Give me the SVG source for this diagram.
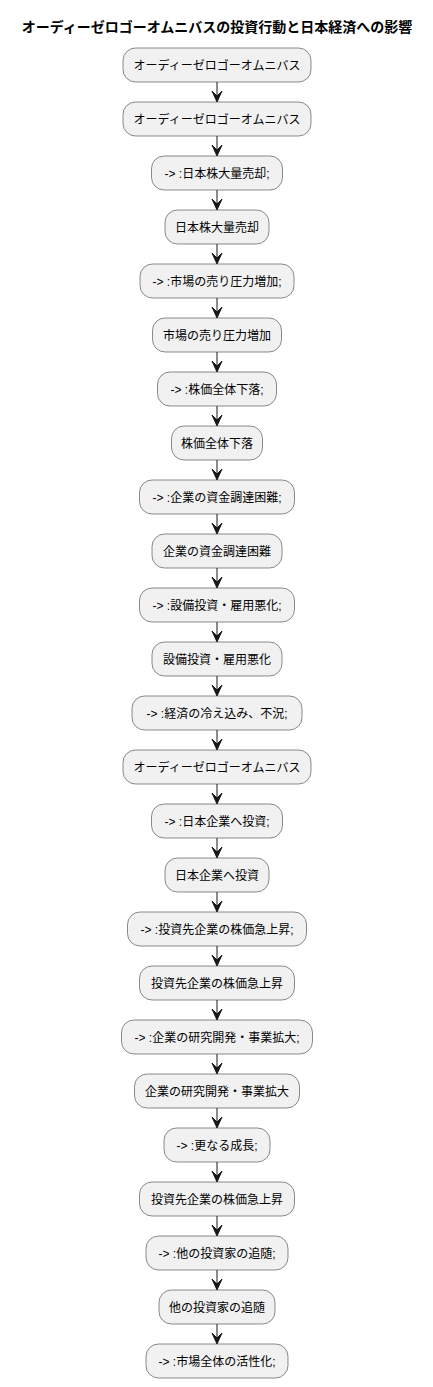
<svg xmlns="http://www.w3.org/2000/svg" width="433" height="1387" viewBox="0 0 433 1387">
<style>
.bg{fill:#FFFFFF}
.n rect{fill:#F1F1F1;stroke:#181818;stroke-width:0.5}
.n text{font-family:"Liberation Sans","Noto Sans CJK JP",sans-serif;font-size:12px;fill:#000000;text-anchor:middle}
.title{font-family:"Liberation Sans","Noto Sans CJK JP",sans-serif;font-size:14px;font-weight:bold;fill:#000000;text-anchor:middle}
#connectors line{stroke:#181818;stroke-width:1}
#connectors use{fill:#181818;stroke:#181818;stroke-width:1}
</style>
<defs>
<polygon id="ah" points="-5,-11 0,0 5,-11 0,-6"/>
</defs>
<rect class="bg" x="0" y="0" width="433" height="1387"/>
<text class="title" x="217" y="32">オーディーゼロゴーオムニバスの投資行動と日本経済への影響</text>
<g id="connectors">
<line x1="217" y1="82" x2="217" y2="97"/><use href="#ah" x="217" y="102"/>
<line x1="217" y1="136" x2="217" y2="151"/><use href="#ah" x="217" y="156"/>
<line x1="217" y1="190" x2="217" y2="205"/><use href="#ah" x="217" y="210"/>
<line x1="217" y1="244" x2="217" y2="259"/><use href="#ah" x="217" y="264"/>
<line x1="217" y1="298" x2="217" y2="313"/><use href="#ah" x="217" y="318"/>
<line x1="217" y1="352" x2="217" y2="367"/><use href="#ah" x="217" y="372"/>
<line x1="217" y1="406" x2="217" y2="421"/><use href="#ah" x="217" y="426"/>
<line x1="217" y1="460" x2="217" y2="475"/><use href="#ah" x="217" y="480"/>
<line x1="217" y1="514" x2="217" y2="529"/><use href="#ah" x="217" y="534"/>
<line x1="217" y1="568" x2="217" y2="583"/><use href="#ah" x="217" y="588"/>
<line x1="217" y1="622" x2="217" y2="637"/><use href="#ah" x="217" y="642"/>
<line x1="217" y1="676" x2="217" y2="691"/><use href="#ah" x="217" y="696"/>
<line x1="217" y1="730" x2="217" y2="745"/><use href="#ah" x="217" y="750"/>
<line x1="217" y1="784" x2="217" y2="799"/><use href="#ah" x="217" y="804"/>
<line x1="217" y1="838" x2="217" y2="853"/><use href="#ah" x="217" y="858"/>
<line x1="217" y1="892" x2="217" y2="907"/><use href="#ah" x="217" y="912"/>
<line x1="217" y1="946" x2="217" y2="961"/><use href="#ah" x="217" y="966"/>
<line x1="217" y1="1000" x2="217" y2="1015"/><use href="#ah" x="217" y="1020"/>
<line x1="217" y1="1054" x2="217" y2="1069"/><use href="#ah" x="217" y="1074"/>
<line x1="217" y1="1108" x2="217" y2="1123"/><use href="#ah" x="217" y="1128"/>
<line x1="217" y1="1162" x2="217" y2="1177"/><use href="#ah" x="217" y="1182"/>
<line x1="217" y1="1216" x2="217" y2="1231"/><use href="#ah" x="217" y="1236"/>
<line x1="217" y1="1270" x2="217" y2="1285"/><use href="#ah" x="217" y="1290"/>
<line x1="217" y1="1324" x2="217" y2="1339"/><use href="#ah" x="217" y="1344"/>
</g>
<g id="n1" class="n"><rect x="123" y="48" width="188" height="34" rx="12.5"/><text x="217" y="69.5">オーディーゼロゴーオムニバス</text></g>
<g id="n2" class="n"><rect x="123" y="102" width="188" height="34" rx="12.5"/><text x="217" y="123.5">オーディーゼロゴーオムニバス</text></g>
<g id="n3" class="n"><rect x="151.5" y="156" width="131" height="34" rx="12.5"/><text x="217" y="177.5">-&gt;  :日本株大量売却;</text></g>
<g id="n4" class="n"><rect x="165" y="210" width="104" height="34" rx="12.5"/><text x="217" y="231.5">日本株大量売却</text></g>
<g id="n5" class="n"><rect x="140" y="264" width="154" height="34" rx="12.5"/><text x="217" y="285.5">-&gt; :市場の売り圧力増加;</text></g>
<g id="n6" class="n"><rect x="152.5" y="318" width="129" height="34" rx="12.5"/><text x="217" y="339.5">市場の売り圧力増加</text></g>
<g id="n7" class="n"><rect x="157.5" y="372" width="119" height="34" rx="12.5"/><text x="217" y="393.5">-&gt; :株価全体下落;</text></g>
<g id="n8" class="n"><rect x="171.5" y="426" width="91" height="34" rx="12.5"/><text x="217" y="447.5">株価全体下落</text></g>
<g id="n9" class="n"><rect x="139.5" y="480" width="155" height="34" rx="12.5"/><text x="217" y="501.5">-&gt; :企業の資金調達困難;</text></g>
<g id="n10" class="n"><rect x="152" y="534" width="130" height="34" rx="12.5"/><text x="217" y="555.5">企業の資金調達困難</text></g>
<g id="n11" class="n"><rect x="139.5" y="588" width="155" height="34" rx="12.5"/><text x="217" y="609.5">-&gt; :設備投資・雇用悪化;</text></g>
<g id="n12" class="n"><rect x="152" y="642" width="130" height="34" rx="12.5"/><text x="217" y="663.5">設備投資・雇用悪化</text></g>
<g id="n13" class="n"><rect x="132" y="696" width="170" height="34" rx="12.5"/><text x="217" y="717.5">-&gt; :経済の冷え込み、不況;</text></g>
<g id="n14" class="n"><rect x="123" y="750" width="188" height="34" rx="12.5"/><text x="217" y="771.5">オーディーゼロゴーオムニバス</text></g>
<g id="n15" class="n"><rect x="151.5" y="804" width="131" height="34" rx="12.5"/><text x="217" y="825.5">-&gt; :日本企業へ投資;</text></g>
<g id="n16" class="n"><rect x="165" y="858" width="104" height="34" rx="12.5"/><text x="217" y="879.5">日本企業へ投資</text></g>
<g id="n17" class="n"><rect x="127.5" y="912" width="179" height="34" rx="12.5"/><text x="217" y="933.5">-&gt; :投資先企業の株価急上昇;</text></g>
<g id="n18" class="n"><rect x="139.5" y="966" width="155" height="34" rx="12.5"/><text x="217" y="987.5">投資先企業の株価急上昇</text></g>
<g id="n19" class="n"><rect x="121.5" y="1020" width="191" height="34" rx="12.5"/><text x="217" y="1041.5">-&gt; :企業の研究開発・事業拡大;</text></g>
<g id="n20" class="n"><rect x="134.5" y="1074" width="165" height="34" rx="12.5"/><text x="217" y="1095.5">企業の研究開発・事業拡大</text></g>
<g id="n21" class="n"><rect x="164" y="1128" width="106" height="34" rx="12.5"/><text x="217" y="1149.5">-&gt; :更なる成長;</text></g>
<g id="n22" class="n"><rect x="139.5" y="1182" width="155" height="34" rx="12.5"/><text x="217" y="1203.5">投資先企業の株価急上昇</text></g>
<g id="n23" class="n"><rect x="146" y="1236" width="142" height="34" rx="12.5"/><text x="217" y="1257.5">-&gt; :他の投資家の追随;</text></g>
<g id="n24" class="n"><rect x="159" y="1290" width="116" height="34" rx="12.5"/><text x="217" y="1311.5">他の投資家の追随</text></g>
<g id="n25" class="n"><rect x="146" y="1344" width="142" height="34" rx="12.5"/><text x="217" y="1365.5">-&gt; :市場全体の活性化;</text></g>
</svg>
